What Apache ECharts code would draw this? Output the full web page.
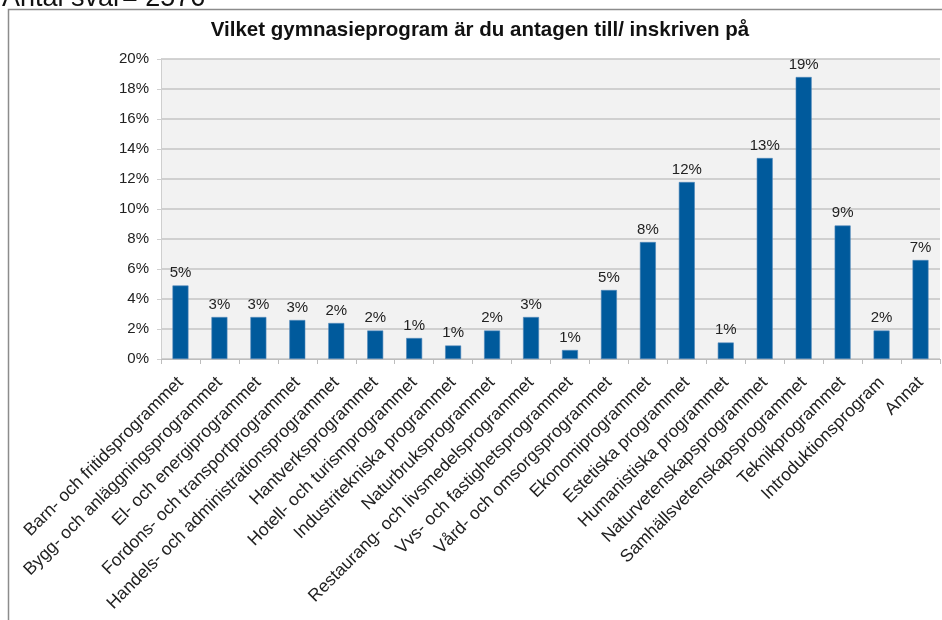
<!DOCTYPE html>
<html>
<head>
<meta charset="utf-8">
<script src="https://cdn.jsdelivr.net/npm/echarts@6/dist/echarts.min.js"></script>
<style>
  html, body { margin: 0; padding: 0; background: #fff; }
  #chart { width: 942px; height: 620px; }
</style>
</head>
<body>
<div id="chart"></div>
<script>
// program categories and share of answers (%)
const programs = [
    'Barn- och fritidsprogrammet',
    'Bygg- och anläggningsprogrammet',
    'El- och energiprogrammet',
    'Fordons- och transportprogrammet',
    'Handels- och administrationsprogrammet',
    'Hantverksprogrammet',
    'Hotell- och turismprogrammet',
    'Industritekniska programmet',
    'Naturbruksprogrammet',
    'Restaurang- och livsmedelsprogrammet',
    'Vvs- och fastighetsprogrammet',
    'Vård- och omsorgsprogrammet',
    'Ekonomiprogrammet',
    'Estetiska programmet',
    'Humanistiska programmet',
    'Naturvetenskapsprogrammet',
    'Samhällsvetenskapsprogrammet',
    'Teknikprogrammet',
    'Introduktionsprogram',
    'Annat'
];
const shares = [4.9, 2.8, 2.8, 2.6, 2.4, 1.9, 1.4, 0.9, 1.9, 2.8, 0.6, 4.6, 7.8, 11.8, 1.1, 13.4, 18.8, 8.9, 1.9, 6.6];

const chartTitle = 'Vilket gymnasieprogram är du antagen till/ inskriven på';
const answersText = 'Antal svar= 2576';

const chart = echarts.init(document.getElementById('chart'));
const font = '"Liberation Sans", Arial, sans-serif';

chart.setOption({
    animation: false,
    textStyle: { fontFamily: font },
    graphic: [
        {
            type: 'rect',
            shape: { x: 8.5, y: 9.5, width: 960, height: 640 },
            style: { fill: 'none', stroke: '#8c8c8c', lineWidth: 1.5 },
            silent: true
        },
        {
            type: 'text',
            left: 2,
            top: -15,
            style: { text: answersText, fontSize: 27, fill: '#111', fontFamily: font }
        },
        {
            type: 'text',
            x: 480,
            y: 30,
            style: {
                text: chartTitle, fontSize: 20.5, fontWeight: 'bold', fill: '#111',
                fontFamily: font, align: 'center', verticalAlign: 'middle'
            }
        }
    ],
    grid: { left: 161, right: 2, top: 59, bottom: 261, show: true, backgroundColor: '#f2f2f2', borderWidth: 0 },
    xAxis: {
        type: 'category',
        data: programs,
        axisLine: { show: true, lineStyle: { color: '#bdbdbd', width: 1 } },
        axisTick: { show: true, length: 5, lineStyle: { color: '#bdbdbd' } },
        axisLabel: { rotate: 45, fontSize: 17.5, color: '#222', margin: 21, interval: 0, fontFamily: font }
    },
    yAxis: {
        type: 'value',
        min: 0,
        max: 20,
        interval: 2,
        axisLine: { show: true, lineStyle: { color: '#cfcfcf', width: 1 } },
        axisTick: { show: true, length: 4, lineStyle: { color: '#cfcfcf' } },
        axisLabel: { fontSize: 15, color: '#222', margin: 12, formatter: v => v + '%', fontFamily: font },
        splitLine: { show: true, lineStyle: { color: '#c4c4c4', width: 1.5 } }
    },
    series: [{
        type: 'bar',
        data: shares,
        barWidth: '41%',
        itemStyle: { color: '#005a9c', borderColor: '#4f86ba', borderWidth: 0.6 },
        label: {
            show: true,
            position: 'top',
            distance: 5,
            fontSize: 15,
            color: '#222',
            fontFamily: font,
            formatter: p => Math.round(p.value) + '%'
        }
    }]
});
</script>
</body>
</html>
